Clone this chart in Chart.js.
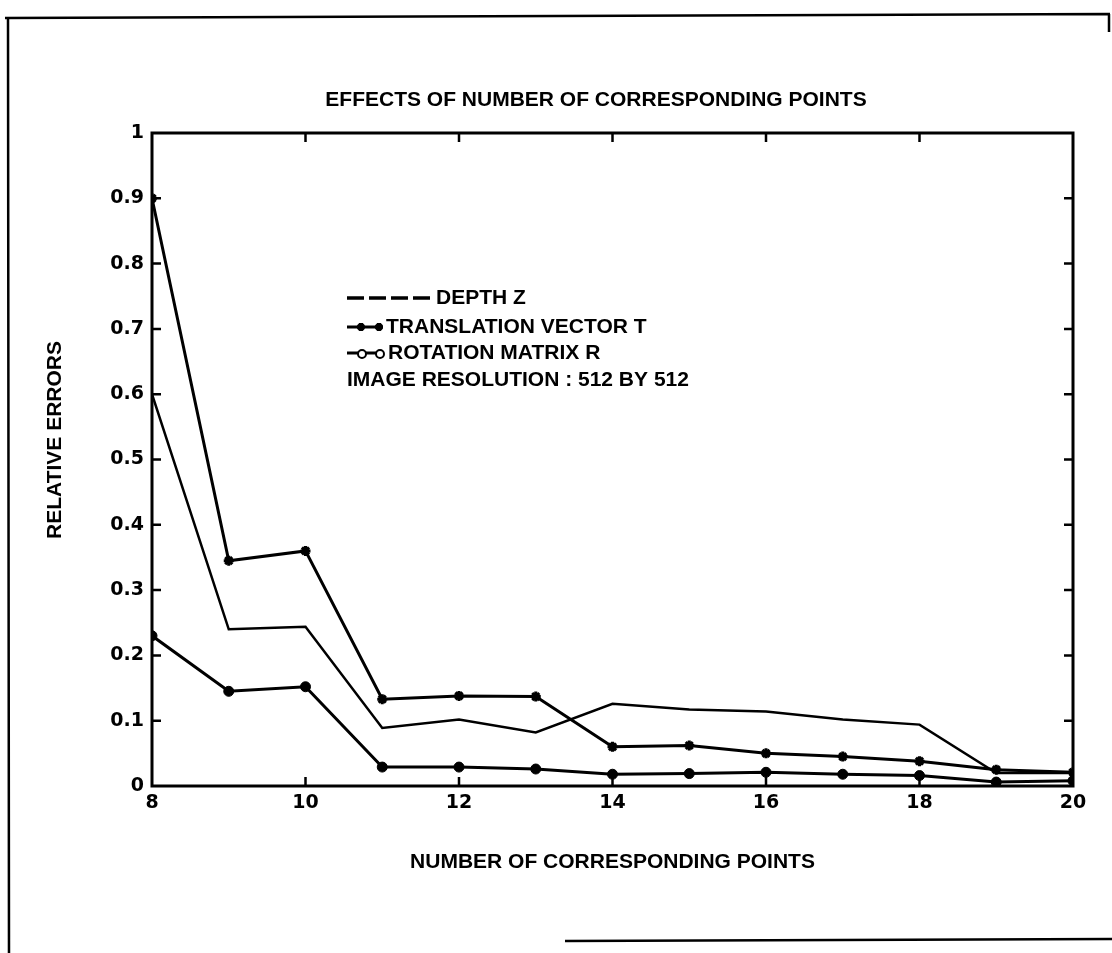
<!DOCTYPE html>
<html>
<head>
<meta charset="utf-8">
<title>Effects of number of corresponding points</title>
<script src="https://cdn.jsdelivr.net/npm/chart.js@4.4.1/dist/chart.umd.min.js"></script>
<style>
  html, body { margin: 0; padding: 0; background: #fff; }
  #wrap { position: relative; width: 1112px; height: 953px; }
</style>
</head>
<body>
<div id="wrap"><canvas id="chart" width="1112" height="953"></canvas></div>
<script>
// ── Data ────────────────────────────────────────────────────
const pointCounts  = [8, 9, 10, 11, 12, 13, 14, 15, 16, 17, 18, 19, 20];
const depthZ       = [0.6, 0.24, 0.244, 0.089, 0.102, 0.082, 0.126, 0.117, 0.114, 0.102, 0.094, 0.02, 0.02];
const translationT = [0.9, 0.345, 0.36, 0.133, 0.138, 0.137, 0.06, 0.062, 0.05, 0.045, 0.038, 0.025, 0.021];
const rotationR    = [0.23, 0.145, 0.152, 0.029, 0.029, 0.026, 0.018, 0.019, 0.021, 0.018, 0.016, 0.006, 0.008];

const xTicks = [8, 10, 12, 14, 16, 18, 20];
const yTicks = [0, 0.1, 0.2, 0.3, 0.4, 0.5, 0.6, 0.7, 0.8, 0.9, 1];

const seriesLabels = ['DEPTH Z', 'TRANSLATION VECTOR T', 'ROTATION MATRIX R'];
const noteText   = 'IMAGE RESOLUTION : 512 BY 512';
const titleText  = 'EFFECTS OF NUMBER OF CORRESPONDING POINTS';
const xTitleText = 'NUMBER OF CORRESPONDING POINTS';
const yTitleText = 'RELATIVE ERRORS';

const INK = '#000';
const LABEL_FONT = 'bold 21px "Liberation Sans", Arial, sans-serif';

const toXY = ys => ys.map((y, i) => ({ x: pointCounts[i], y }));

// ── Plugins ────────────────────────────────────────────────
// page border of the scanned sheet
const paperFrame = {
    id: 'paperFrame',
    beforeDraw(chart) {
        const ctx = chart.ctx;
        ctx.save();
        ctx.fillStyle = '#fff';
        ctx.fillRect(0, 0, chart.width, chart.height);
        ctx.strokeStyle = INK;
        ctx.lineWidth = 2.5;
        ctx.beginPath();
        ctx.moveTo(8, 17);   ctx.lineTo(9, 953);
        ctx.moveTo(5, 18);   ctx.lineTo(1110, 14);
        ctx.moveTo(1109, 14); ctx.lineTo(1109, 32);
        ctx.moveTo(565, 941); ctx.lineTo(1112, 939);
        ctx.stroke();
        ctx.restore();
    }
};

// box round the plot with inward ticks on all four sides
const plotBox = {
    id: 'plotBox',
    beforeDatasetsDraw(chart) {
        const { ctx, chartArea: a, scales } = chart;
        const len = 9;
        ctx.save();
        ctx.strokeStyle = INK;
        ctx.lineWidth = 3;
        ctx.strokeRect(a.left, a.top, a.right - a.left, a.bottom - a.top);
        ctx.lineWidth = 2.5;
        ctx.beginPath();
        scales.x.ticks.forEach(t => {
            if (t.value === scales.x.min || t.value === scales.x.max) return;
            const px = scales.x.getPixelForValue(t.value);
            ctx.moveTo(px, a.bottom); ctx.lineTo(px, a.bottom - len);
            ctx.moveTo(px, a.top);    ctx.lineTo(px, a.top + len);
        });
        scales.y.ticks.forEach(t => {
            if (t.value === scales.y.min || t.value === scales.y.max) return;
            const py = scales.y.getPixelForValue(t.value);
            ctx.moveTo(a.left, py);  ctx.lineTo(a.left + len, py);
            ctx.moveTo(a.right, py); ctx.lineTo(a.right - len, py);
        });
        ctx.stroke();
        ctx.restore();
    }
};

// title, axis titles and the hand-made legend block
const figureText = {
    id: 'figureText',
    afterDraw(chart) {
        const ctx = chart.ctx;
        const a = chart.chartArea;
        ctx.save();
        ctx.fillStyle = INK;
        ctx.strokeStyle = INK;
        ctx.font = LABEL_FONT;
        ctx.textBaseline = 'middle';

        ctx.textAlign = 'center';
        ctx.fillText(titleText, 596, 100);
        ctx.fillText(xTitleText, (a.left + a.right) / 2, 862);

        ctx.save();
        ctx.translate(55, 440);
        ctx.rotate(-Math.PI / 2);
        ctx.fillText(yTitleText, 0, 0);
        ctx.restore();

        // legend
        ctx.textAlign = 'left';
        ctx.lineWidth = 3.5;

        // dashed sample, four dashes
        ctx.setLineDash([17, 5]);
        ctx.beginPath();
        ctx.moveTo(347, 298); ctx.lineTo(430, 298);
        ctx.stroke();
        ctx.setLineDash([]);
        ctx.fillText(seriesLabels[0], 436, 298);

        // dash, star, dash, star
        ctx.lineWidth = 3;
        ctx.beginPath();
        ctx.moveTo(347, 327); ctx.lineTo(358, 327);
        ctx.moveTo(365, 327); ctx.lineTo(376, 327);
        ctx.stroke();
        [361, 379].forEach(cx => {
            Chart.helpers.drawPoint(ctx, { pointStyle: 'star', radius: 4, borderWidth: 2.5 }, cx, 327);
        });
        ctx.fillText(seriesLabels[1], 386, 327);

        // dash, open circle, dash, open circle
        ctx.beginPath();
        ctx.moveTo(347, 353); ctx.lineTo(358, 353);
        ctx.moveTo(366, 353); ctx.lineTo(376, 353);
        ctx.stroke();
        ctx.lineWidth = 2;
        [362, 380].forEach(cx => {
            ctx.beginPath();
            ctx.arc(cx, 354, 4, 0, Math.PI * 2);
            ctx.stroke();
        });
        ctx.fillText(seriesLabels[2], 388, 353);

        ctx.fillText(noteText, 347, 380);
        ctx.restore();
    }
};

// ── Chart ──────────────────────────────────────────────────
const ctx = document.getElementById('chart').getContext('2d');
new Chart(ctx, {
    type: 'line',
    data: {
        datasets: [
            {
                label: seriesLabels[0],
                data: toXY(depthZ),
                borderColor: INK,
                borderWidth: 2.5,
                pointRadius: 0,
                tension: 0
            },
            {
                label: seriesLabels[1],
                data: toXY(translationT),
                borderColor: INK,
                backgroundColor: INK,
                borderWidth: 3,
                pointStyle: 'star',
                pointRadius: 5,
                pointBorderWidth: 3,
                tension: 0
            },
            {
                label: seriesLabels[2],
                data: toXY(rotationR),
                borderColor: INK,
                backgroundColor: INK,
                borderWidth: 3,
                pointStyle: 'circle',
                pointRadius: 5,
                pointBorderWidth: 1,
                tension: 0
            }
        ]
    },
    options: {
        responsive: false,
        animation: false,
        layout: { padding: { left: 52, right: 39, top: 133, bottom: 127 } },
        plugins: {
            legend: { display: false },
            tooltip: { enabled: false },
            title: { display: false }
        },
        scales: {
            x: {
                type: 'linear',
                min: 8,
                max: 20,
                afterBuildTicks: s => { s.ticks = xTicks.map(v => ({ value: v })); },
                afterFit: s => { s.height = 40; },
                grid: { display: false, drawTicks: false },
                border: { display: false },
                ticks: {
                    color: INK,
                    padding: 6,
                    maxRotation: 0,
                    font: { family: '"DejaVu Sans", sans-serif', size: 19, weight: 'bold' },
                    callback: v => String(v)
                }
            },
            y: {
                type: 'linear',
                min: 0,
                max: 1,
                afterBuildTicks: s => { s.ticks = yTicks.map(v => ({ value: v })); },
                afterFit: s => { s.width = 100; },
                grid: { display: false, drawTicks: false },
                border: { display: false },
                ticks: {
                    color: INK,
                    padding: 8,
                    font: { family: '"DejaVu Sans", sans-serif', size: 19, weight: 'bold' },
                    callback: v => String(+Number(v).toFixed(1))
                }
            }
        }
    },
    plugins: [paperFrame, plotBox, figureText]
});
</script>
</body>
</html>
